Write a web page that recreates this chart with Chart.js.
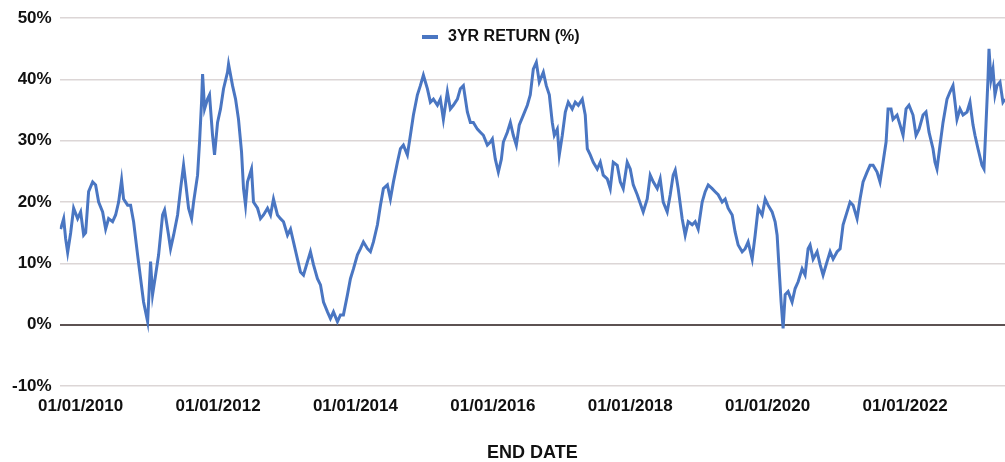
<!DOCTYPE html>
<html>
<head>
<meta charset="utf-8">
<title>3YR RETURN</title>
<script src="https://cdn.jsdelivr.net/npm/chart.js@4.4.1/dist/chart.umd.min.js"></script>
<style>
  html, body { margin: 0; padding: 0; background: #fff; }
  #wrap { width: 1005px; height: 462px; }
</style>
</head>
<body>
<div id="wrap"><canvas id="myChart"></canvas></div>
<script>
// end date as decimal year
const endDates = [
  2009.709, 2009.753, 2009.782, 2009.811, 2009.855, 2009.898, 2009.956, 2010.000, 2010.044, 2010.073,
  2010.116, 2010.175, 2010.218, 2010.262, 2010.320, 2010.364, 2010.407, 2010.465, 2010.509, 2010.553,
  2010.596, 2010.625, 2010.684, 2010.727, 2010.771, 2010.829, 2010.873, 2010.916, 2010.975, 2011.018,
  2011.047, 2011.091, 2011.135, 2011.193, 2011.222, 2011.280, 2011.309, 2011.353, 2011.411, 2011.455,
  2011.498, 2011.527, 2011.571, 2011.615, 2011.644, 2011.702, 2011.731, 2011.760, 2011.775, 2011.804,
  2011.847, 2011.876, 2011.920, 2011.949, 2011.993, 2012.036, 2012.080, 2012.138, 2012.153, 2012.211,
  2012.255, 2012.298, 2012.342, 2012.371, 2012.400, 2012.429, 2012.487, 2012.516, 2012.575, 2012.618,
  2012.662, 2012.720, 2012.764, 2012.807, 2012.865, 2012.909, 2012.953, 2013.011, 2013.055, 2013.098,
  2013.156, 2013.200, 2013.244, 2013.302, 2013.345, 2013.389, 2013.447, 2013.491, 2013.535, 2013.593,
  2013.636, 2013.680, 2013.738, 2013.782, 2013.825, 2013.884, 2013.927, 2013.971, 2014.029, 2014.073,
  2014.116, 2014.175, 2014.218, 2014.262, 2014.320, 2014.364, 2014.407, 2014.465, 2014.509, 2014.553,
  2014.611, 2014.655, 2014.698, 2014.756, 2014.800, 2014.844, 2014.902, 2014.945, 2014.989, 2015.047,
  2015.091, 2015.135, 2015.193, 2015.236, 2015.280, 2015.338, 2015.382, 2015.425, 2015.484, 2015.527,
  2015.571, 2015.629, 2015.673, 2015.716, 2015.775, 2015.818, 2015.862, 2015.920, 2015.964, 2015.993,
  2016.036, 2016.080, 2016.124, 2016.153, 2016.211, 2016.255, 2016.298, 2016.342, 2016.385, 2016.444,
  2016.502, 2016.545, 2016.589, 2016.633, 2016.676, 2016.735, 2016.778, 2016.822, 2016.865, 2016.895,
  2016.938, 2016.967, 2017.011, 2017.055, 2017.098, 2017.156, 2017.200, 2017.244, 2017.302, 2017.345,
  2017.375, 2017.418, 2017.462, 2017.520, 2017.564, 2017.607, 2017.665, 2017.709, 2017.753, 2017.811,
  2017.855, 2017.898, 2017.956, 2018.000, 2018.044, 2018.102, 2018.145, 2018.189, 2018.247, 2018.291,
  2018.335, 2018.393, 2018.436, 2018.480, 2018.538, 2018.582, 2018.625, 2018.655, 2018.698, 2018.756,
  2018.800, 2018.844, 2018.902, 2018.945, 2018.989, 2019.047, 2019.091, 2019.135, 2019.193, 2019.236,
  2019.280, 2019.338, 2019.382, 2019.425, 2019.484, 2019.527, 2019.571, 2019.629, 2019.673, 2019.716,
  2019.775, 2019.818, 2019.862, 2019.920, 2019.964, 2020.007, 2020.065, 2020.109, 2020.138, 2020.167,
  2020.196, 2020.225, 2020.255, 2020.298, 2020.356, 2020.400, 2020.444, 2020.502, 2020.545, 2020.589,
  2020.618, 2020.662, 2020.720, 2020.764, 2020.807, 2020.865, 2020.909, 2020.953, 2021.011, 2021.055,
  2021.098, 2021.156, 2021.200, 2021.244, 2021.302, 2021.345, 2021.389, 2021.447, 2021.491, 2021.535,
  2021.593, 2021.636, 2021.680, 2021.724, 2021.753, 2021.796, 2021.825, 2021.884, 2021.927, 2021.971,
  2022.015, 2022.058, 2022.116, 2022.160, 2022.204, 2022.262, 2022.305, 2022.349, 2022.407, 2022.436,
  2022.465, 2022.509, 2022.553, 2022.611, 2022.655, 2022.698, 2022.727, 2022.756, 2022.800, 2022.844,
  2022.902, 2022.945, 2022.989, 2023.018, 2023.062, 2023.120, 2023.149, 2023.178, 2023.207, 2023.222,
  2023.251, 2023.280, 2023.309, 2023.338, 2023.382, 2023.425, 2023.455
];

// 3 year return in %
const returns3yr = [
  15.6, 17.3, 14.0, 11.8, 15.0, 19.0, 17.3, 18.4, 14.6, 15.0,
  21.7, 23.3, 22.8, 20.0, 18.4, 15.6, 17.3, 16.8, 17.9, 20.0,
  23.6, 20.5, 19.5, 19.5, 16.8, 11.4, 7.5, 3.7, 0.5, 10.3,
  4.9, 8.1, 11.4, 17.9, 18.7, 14.6, 12.4, 14.6, 17.9, 22.2,
  26.0, 23.3, 19.0, 17.3, 20.0, 24.4, 29.8, 36.3, 40.9, 35.2,
  36.8, 37.5, 30.9, 27.7, 33.0, 35.2, 38.5, 41.2, 42.5, 39.0,
  36.8, 33.5, 28.2, 22.2, 19.5, 23.3, 25.4, 20.0, 19.0, 17.3,
  17.9, 19.0, 17.9, 20.5, 17.9, 17.3, 16.8, 14.6, 15.6, 13.5,
  10.7, 8.6, 8.1, 10.3, 11.9, 9.8, 7.5, 6.5, 3.7, 2.1,
  1.0, 2.1, 0.5, 1.6, 1.6, 4.9, 7.5, 9.1, 11.4, 12.4,
  13.5, 12.4, 11.9, 13.5, 16.3, 19.5, 22.2, 22.8, 20.5, 23.3,
  26.5, 28.7, 29.3, 27.7, 30.9, 34.2, 37.5, 39.0, 40.7, 38.5,
  36.3, 36.8, 35.8, 36.8, 33.5, 38.0, 35.2, 35.8, 36.8, 38.5,
  39.0, 34.7, 33.0, 33.0, 31.9, 31.4, 30.9, 29.3, 29.8, 30.3,
  27.0, 24.9, 27.0, 29.8, 31.4, 33.0, 30.9, 29.3, 32.6, 34.2,
  35.8, 37.5, 41.7, 42.8, 39.6, 41.2, 39.0, 37.5, 33.0, 30.9,
  31.9, 27.7, 30.9, 34.7, 36.3, 35.2, 36.3, 35.8, 36.8, 34.2,
  28.7, 27.7, 26.5, 25.4, 26.5, 24.4, 23.8, 22.2, 26.5, 26.0,
  23.3, 22.2, 26.5, 25.4, 22.8, 21.2, 19.8, 18.4, 20.5, 24.4,
  23.3, 22.2, 23.8, 20.0, 18.4, 21.2, 24.4, 25.2, 22.2, 17.3,
  14.6, 16.8, 16.3, 16.8, 15.6, 20.0, 21.7, 22.8, 22.2, 21.7,
  21.2, 20.0, 20.5, 19.0, 17.9, 15.1, 13.0, 11.9, 12.4, 13.5,
  10.7, 14.6, 19.0, 17.9, 20.5, 19.5, 18.4, 16.8, 14.6, 9.1,
  3.7, -0.6, 4.9, 5.4, 3.7, 5.9, 7.0, 9.1, 8.1, 12.4,
  13.0, 10.7, 11.9, 9.8, 8.1, 10.3, 11.9, 10.7, 11.9, 12.4,
  16.3, 18.4, 20.0, 19.5, 17.3, 20.5, 23.3, 24.9, 26.0, 26.0,
  24.9, 23.3, 26.5, 29.8, 35.2, 35.2, 33.5, 34.2, 32.6, 30.9,
  35.2, 35.8, 34.2, 30.9, 31.9, 34.2, 34.7, 31.4, 28.7, 26.5,
  25.4, 29.3, 33.0, 36.8, 38.0, 39.0, 36.3, 33.5, 35.2, 34.2,
  34.7, 36.3, 32.6, 30.9, 28.7, 26.0, 25.4, 32.6, 40.0, 45.0,
  40.0, 41.7, 37.5, 39.0, 39.6, 36.3, 36.8
];

const tickYears = [2010, 2012, 2014, 2016, 2018, 2020, 2022];
const yTicks = [-10, 0, 10, 20, 30, 40, 50];

const lineColor = '#4a76c2';

// legend drawn inside the plot, like the original
const insideLegend = {
  id: 'insideLegend',
  afterDraw(chart) {
    const ctx = chart.ctx;
    ctx.save();
    ctx.fillStyle = lineColor;
    ctx.fillRect(422, 35, 16, 4);
    ctx.fillStyle = '#111';
    ctx.font = 'bold 16px "Liberation Sans", Arial, sans-serif';
    ctx.textBaseline = 'middle';
    ctx.fillText('3YR RETURN (%)', 448, 37);
    ctx.restore();
  }
};

const ctx = document.getElementById('myChart');

const myChart = new Chart(ctx, {
  type: 'line',
  data: {
    datasets: [{
      label: '3YR RETURN (%)',
      data: endDates.map((d, i) => ({ x: d, y: returns3yr[i] })),
      borderColor: lineColor,
      borderWidth: 3,
      pointRadius: 0,
      tension: 0,
      fill: false
    }]
  },
  options: {
    responsive: true,
    maintainAspectRatio: false,
    animation: false,
    layout: { padding: { top: 6, left: 4, right: 0, bottom: 0 } },
    plugins: {
      legend: { display: false },
      tooltip: { enabled: false }
    },
    scales: {
      x: {
        type: 'linear',
        min: 2009.695,
        max: 2023.455,
        afterBuildTicks: scale => {
          scale.ticks = tickYears.map(v => ({ value: v }));
        },
        ticks: {
          color: '#111',
          padding: 10,
          maxRotation: 0,
          autoSkip: false,
          font: { family: '"Liberation Sans", Arial, sans-serif', size: 17, weight: 'bold' },
          callback: v => '01/01/' + v
        },
        grid: { display: false, drawTicks: false },
        border: { display: false },
        title: {
          display: true,
          text: 'END DATE',
          color: '#111',
          padding: { top: 16, bottom: -2 },
          font: { family: '"Liberation Sans", Arial, sans-serif', size: 18, weight: 'bold' }
        }
      },
      y: {
        min: -10,
        max: 50,
        afterBuildTicks: scale => {
          scale.ticks = yTicks.map(v => ({ value: v }));
        },
        ticks: {
          color: '#111',
          padding: 8,
          font: { family: '"Liberation Sans", Arial, sans-serif', size: 17, weight: 'bold' },
          callback: v => v + '%'
        },
        grid: {
          drawTicks: false,
          color: c => c.tick && c.tick.value === 0 ? '#5c5252' : '#dcd6d6',
          lineWidth: c => c.tick && c.tick.value === 0 ? 2 : 1.5
        },
        border: { display: false }
      }
    }
  },
  plugins: [insideLegend]
});
</script>
</body>
</html>
